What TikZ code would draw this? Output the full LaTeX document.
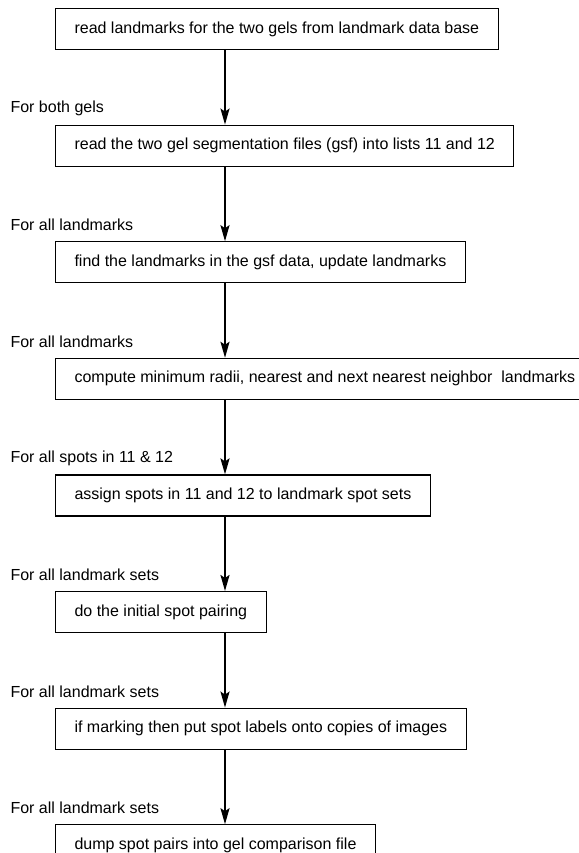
\documentclass[tikz,border=0pt]{standalone}
\usepackage{fontspec}
\setmainfont{Liberation Sans}
\usetikzlibrary{arrows.meta, positioning, calc}
\tikzset{
  every picture/.style={line width=1.1pt},
  stepbox/.style={draw=black, align=center, inner xsep=19pt, inner ysep=0pt, minimum height=41pt,
    anchor=north west, font=\fontsize{16}{19}\selectfont},
  arrow/.style={-{Stealth[length=16pt, width=9pt, inset=3pt]}, line width=2pt},
  loopnote/.style={anchor=west, inner sep=0pt, font=\fontsize{16}{19}\selectfont},
}
\begin{document}
\begin{tikzpicture}[x=1pt, y=1pt, node distance=74.5pt]
  \useasboundingbox (0,0) rectangle (578,-853);
  \coordinate (spine) at (225,0);
  % processing steps, all flush left
  \node[stepbox] (s1) at (55,-8) {read landmarks for the two gels from landmark data base};
  \node[stepbox, below=of s1.south west, anchor=north west] (s2) {read the two gel segmentation files (gsf) into lists 11 and 12};
  \node[stepbox, below=of s2.south west, anchor=north west] (s3) {find the landmarks in the gsf data, update landmarks};
  \node[stepbox, below=of s3.south west, anchor=north west] (s4) {compute minimum radii, nearest and next nearest neighbor\ \ landmarks};
  \node[stepbox, below=of s4.south west, anchor=north west] (s5) {assign spots in 11 and 12 to landmark spot sets};
  \node[stepbox, below=of s5.south west, anchor=north west] (s6) {do the initial spot pairing};
  \node[stepbox, below=of s6.south west, anchor=north west] (s7) {if marking then put spot labels onto copies of images};
  \node[stepbox, below=of s7.south west, anchor=north west] (s8) {dump spot pairs into gel comparison file};
  % loop labels over the steps
  \foreach \s/\t in {s2/For both gels, s3/For all landmarks, s4/For all landmarks, s5/For all spots in 11 \& 12,
                     s6/For all landmark sets, s7/For all landmark sets, s8/For all landmark sets} {
    \node[loopnote] (n\s) at ($(\s.north west)+(-45,16)$) {\t};
  }
  % arrows down the spine
  \foreach \a/\b in {s1/s2, s2/s3, s3/s4, s4/s5, s5/s6, s6/s7, s7/s8} {
    \draw[arrow] (\a.south -| spine) -- (\b.north -| spine);
  }
\end{tikzpicture}
\end{document}
